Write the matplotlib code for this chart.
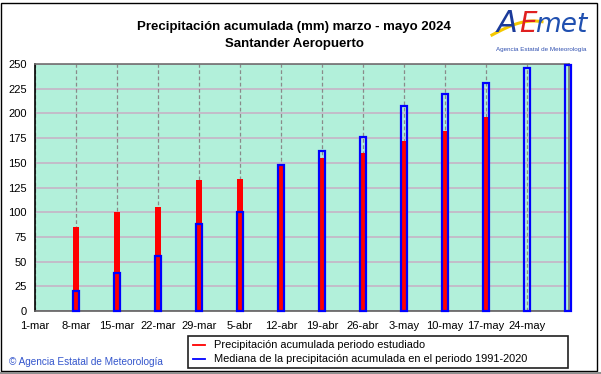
import matplotlib
matplotlib.use("Agg")
import matplotlib.pyplot as plt
from matplotlib.patches import Rectangle
import numpy as np

plt.rcParams['font.family'] = ['Liberation Sans', 'DejaVu Sans']

# ---- data ----
tick_labels = ["1-mar", "8-mar", "15-mar", "22-mar", "29-mar", "5-abr", "12-abr",
               "19-abr", "26-abr", "3-may", "10-may", "17-may", "24-may"]
tick_days = [0, 7, 14, 21, 28, 35, 42, 49, 56, 63, 70, 77, 84]
obs_days = [7, 14, 21, 28, 35, 42, 49, 56, 63, 70, 77]
obs_values = [85, 100, 105, 133, 134, 147, 154.5, 159.5, 172, 182, 196.5]
med_days = [7, 14, 21, 28, 35, 42, 49, 56, 63, 70, 77, 84, 91]
med_values = [20.5, 38, 56, 88, 100, 148, 162, 176, 207.5, 220, 230.5, 245.5, 248.5]
y_ticks = list(range(0, 251, 25))

title1 = "Precipitación acumulada (mm) marzo - mayo 2024"
title2 = "Santander Aeropuerto"
legend_obs = "Precipitación acumulada periodo estudiado"
legend_med = "Mediana de la precipitación acumulada en el periodo 1991-2020"

W, H = 601, 374
fig = plt.figure(figsize=(W / 100, H / 100), dpi=100)
fig.patch.set_facecolor('white')

def fx(px):
    return px / W

def fy(py):
    return 1 - py / H

ax = fig.add_axes([fx(35), fy(311), fx(569) - fx(35), fy(64) - fy(311)])
ax.set_facecolor('#B2F0DA')

ax.set_xlim(0, 91.2)
ax.set_ylim(0, 250)

# grid
for yv in y_ticks:
    ax.axhline(yv, color='#C4B8C8', lw=1.3, zorder=1)
for d in tick_days:
    ax.axvline(d, color='#8A8A8A', lw=0.9, ls=(0, (3, 2)), zorder=1.5)

bw = 1.02
ax.bar(obs_days, obs_values, width=bw, color='#FF0000', edgecolor='none', zorder=3)
ax.bar(med_days, med_values, width=bw, facecolor='none', edgecolor='#0000FF',
       linewidth=1.6, zorder=4, clip_on=False)

ax.set_xticks(tick_days)
ax.set_xticklabels(tick_labels, fontsize=8)
ax.set_yticks(y_ticks)
ax.set_yticklabels([str(v) for v in y_ticks], fontsize=8)
ax.tick_params(length=0, pad=7)
ax.tick_params(axis='y', pad=6)

ax.spines['left'].set_color('#000000')
ax.spines['bottom'].set_color('#606060')
ax.spines['top'].set_color('#707070')
ax.spines['right'].set_color('#707070')
for s in ax.spines.values():
    s.set_linewidth(1.2)

# titles
fig.text(fx(294), fy(27), title1, ha='center', va='center', fontsize=9.5, fontweight='bold')
fig.text(fx(294), fy(44), title2, ha='center', va='center', fontsize=9.5, fontweight='bold')

# legend box
fig.add_artist(Rectangle((fx(188), fy(368)), fx(568) - fx(188), fy(336) - fy(368),
                         transform=fig.transFigure, facecolor='white',
                         edgecolor='#202020', lw=1.2))
fig.add_artist(plt.Line2D([fx(193), fx(205)], [fy(345), fy(345)], color='#FF0000', lw=1.3,
                          transform=fig.transFigure))
fig.add_artist(plt.Line2D([fx(193), fx(205)], [fy(359), fy(359)], color='#0000FF', lw=1.3,
                          transform=fig.transFigure))
fig.text(fx(214), fy(345), legend_obs, ha='left', va='center', fontsize=7.9)
fig.text(fx(214), fy(359), legend_med, ha='left', va='center', fontsize=7.9)

# copyright
fig.text(fx(9), fy(362), "© Agencia Estatal de Meteorología", ha='left', va='center',
         fontsize=7.2, color='#3355CC')

# logo
fig.text(fx(497), fy(24), "A", ha='left', va='center', fontsize=22, style='italic',
         color='#1A3A9A', family='DejaVu Sans')
fig.text(fx(519), fy(24), "E", ha='left', va='center', fontsize=20, style='italic',
         color='#E02020', family='DejaVu Sans')
fig.text(fx(535), fy(25), "met", ha='left', va='center', fontsize=19, style='italic',
         color='#2050B0', family='DejaVu Sans')
t = np.linspace(0, 1, 30)
sx = 492 + 50 * t
sy = 35 - 14 * np.sin(t * np.pi * 0.6)
fig.add_artist(plt.Line2D(fx(sx), fy(sy), color='#F5C800', lw=2.2, transform=fig.transFigure))
fig.text(fx(541), fy(49), "Agencia Estatal de Meteorología", ha='center', va='center',
         fontsize=4.5, color='#3050B0')

# figure border
fig.add_artist(Rectangle((fx(1), fy(371)), fx(597) - fx(1), fy(3) - fy(371),
                         transform=fig.transFigure, facecolor='none',
                         edgecolor='#000000', lw=1.0))
fig.add_artist(plt.Line2D([0, 1], [fy(372.5), fy(372.5)], color='#909090', lw=2.2,
                          transform=fig.transFigure))

fig.savefig("out.png", dpi=100)
